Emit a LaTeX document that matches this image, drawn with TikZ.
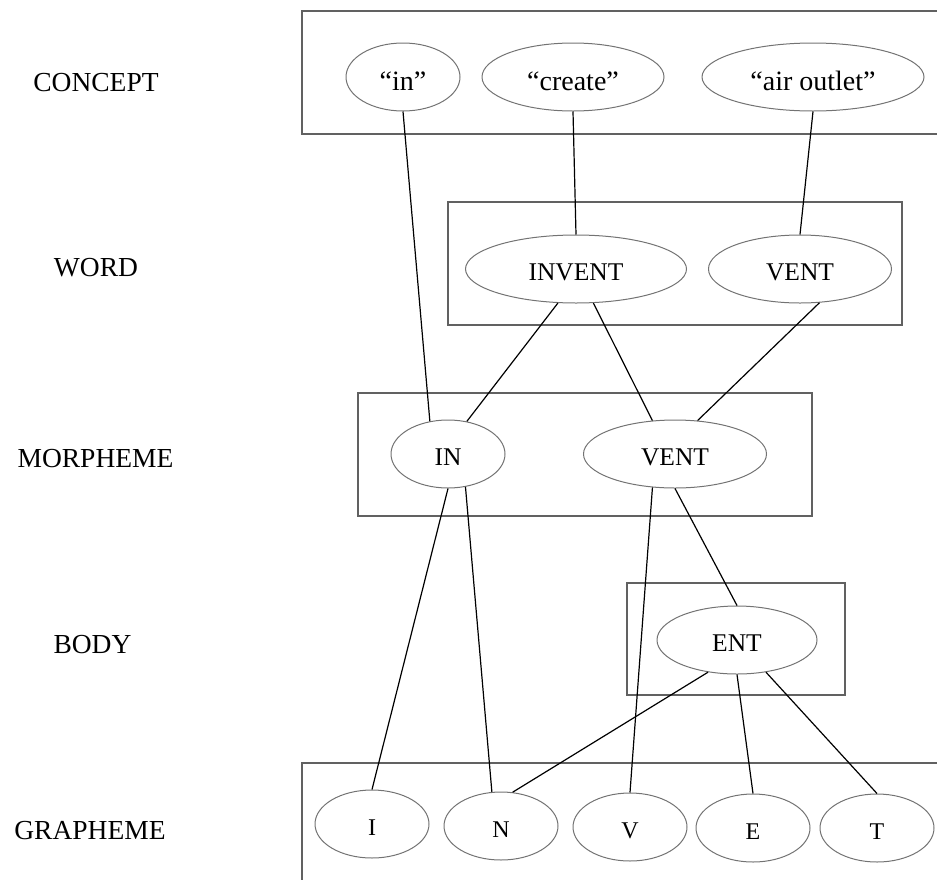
\documentclass[tikz,border=0pt]{standalone}
\usepackage{fontspec}
\setmainfont{Liberation Serif}
\usetikzlibrary{shapes.geometric}
\begin{document}
\begin{tikzpicture}[x=1pt,y=-1pt,
  levelbox/.style={draw=black!62,line width=1.1pt},
  unit/.style={ellipse,draw=black!55,line width=1pt,inner sep=0pt,
    minimum height=68pt,text height=22pt,text depth=0pt,
    font=\fontsize{25.5}{30}\selectfont},
  gloss/.style={unit,text height=26pt,font=\fontsize{28}{32}\selectfont},
  letter/.style={unit,minimum width=114pt,text height=23pt,font=\fontsize{24}{28}\selectfont},
  levellabel/.style={anchor=base,font=\fontsize{27.5}{32}\selectfont,inner sep=0pt},
  link/.style={draw=black,line width=1.2pt}]
\useasboundingbox (0,0) rectangle (937,879);

% level frames
\draw[levelbox] (302,11) rectangle (950,134);
\draw[levelbox] (448,202) rectangle (902,325);
\draw[levelbox] (358,393) rectangle (812,516);
\draw[levelbox] (627,583) rectangle (845,695);
\draw[levelbox] (302,763) rectangle (950,900);

% level names
\node[levellabel] (lconcept) at (96,91) {CONCEPT};
\node[levellabel] (lword) at (96,276) {WORD};
\node[levellabel] (lmorph) at (95.5,467) {MORPHEME};
\node[levellabel] (lbody) at (92.5,653) {BODY};
\node[levellabel] (lgraph) at (90,839) {GRAPHEME};

% concepts
\node[gloss,minimum width=114pt] (cin) at (403,77) {“in”};
\node[gloss,minimum width=182pt] (ccreate) at (573,77) {“create”};
\node[gloss,minimum width=222pt] (cair) at (813,77) {“air outlet”};

% words
\node[unit,minimum width=221pt] (winvent) at (576,269) {INVENT};
\node[unit,minimum width=183pt] (wvent) at (800,269) {VENT};

% morphemes
\node[unit,minimum width=114pt] (min) at (448,454) {IN};
\node[unit,minimum width=183pt] (mvent) at (675,454) {VENT};

% body
\node[unit,minimum width=160pt] (bent) at (737,640) {ENT};

% graphemes
\node[letter] (gi) at (372,824) {I};
\node[letter] (gn) at (501,826) {N};
\node[letter] (gv) at (630,827) {V};
\node[letter] (ge) at (753,828) {E};
\node[letter] (gt) at (877,828) {T};

% links
\draw[link] (cin.-90) -- (min.119);
\draw[link] (ccreate.-90) -- (winvent.90);
\draw[link] (cair.-90) -- (wvent.90);
\draw[link] (winvent.-118) -- (min.60);
\draw[link] (winvent.-63) -- (mvent.124);
\draw[link] (wvent.-60) -- (mvent.56);
\draw[link] (min.-90) -- (gi.90);
\draw[link] (min.-62) -- (gn.105);
\draw[link] (mvent.-124) -- (gv.90);
\draw[link] (mvent.-90) -- (bent.90);
\draw[link] (bent.-132) -- (gn.71);
\draw[link] (bent.-90) -- (ge.90);
\draw[link] (bent.-48) -- (gt.90);
\end{tikzpicture}
\end{document}
